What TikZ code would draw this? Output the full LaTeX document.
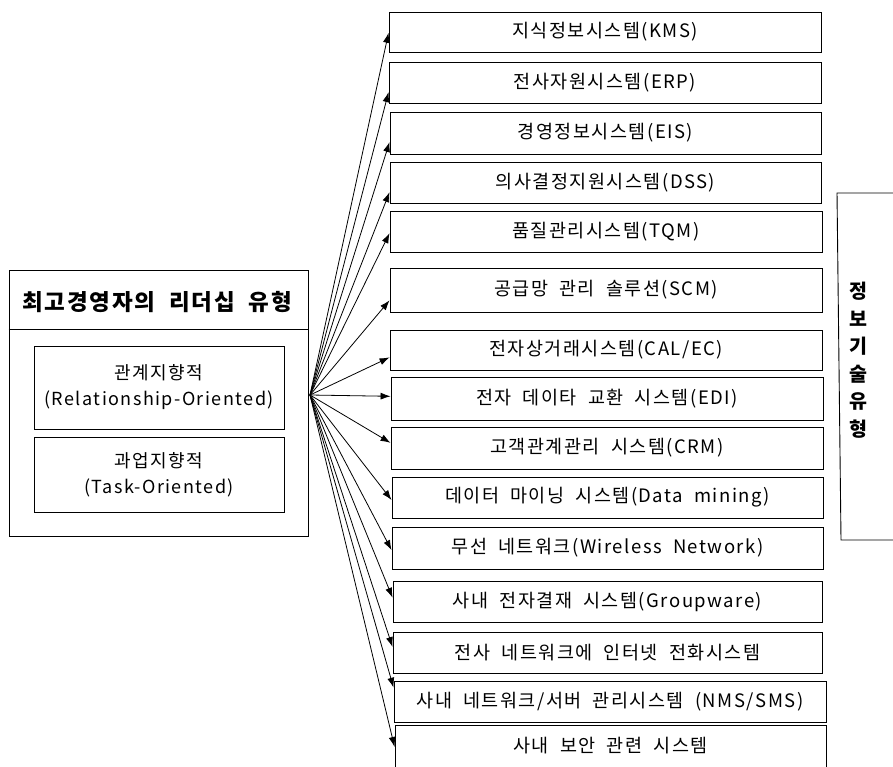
\documentclass[tikz,border=0pt]{standalone}
\usepackage{fontspec}
\setmainfont{Noto Sans CJK KR}[LetterSpace=8,WordSpace=2]
\usetikzlibrary{arrows.meta,calc}
\tikzset{
  rbox/.style={draw,line width=0.9pt,inner sep=0pt,font=\fontsize{18.5}{22}\selectfont},
  ibox/.style={draw,line width=0.9pt,inner sep=0pt,align=center,font=\fontsize{18}{26}\selectfont},
  arr/.style={line width=0.8pt,-{Latex[length=10pt,width=7pt]}},
}
\newcommand\rbx[6]{\node[rbox,minimum width={#3-#2},minimum height={#5-#4}] (#1) at ({(#2+#3)/2},{(#4+#5)/2}) {#6};}
\begin{document}
\begin{tikzpicture}[x=1pt,y=-1pt]
\useasboundingbox (0,0) rectangle (893,767);
% left box
\node[draw,line width=0.9pt,minimum width=299,minimum height=266,inner sep=0pt] (lbox) at (158.5,403) {};
\node[font=\bfseries\fontsize{22.5}{26}\selectfont] (ltitle) at (157,302) {최고경영자의 리더십 유형};
\draw[line width=0.9pt] (lbox.west |- 0,329) coordinate (sepL) -- (lbox.east |- 0,329) coordinate (sepR);
\node[ibox,minimum width=250,minimum height=83] (ia) at (159,387.5) {관계지향적\\(Relationship-Oriented)};
\node[ibox,minimum width=250,minimum height=75] (ib) at (159,474.5) {과업지향적\\(Task-Oriented)};
\coordinate (hub) at (310,395);
% right boxes
\rbx{b1}{389}{821}{12}{52}{지식정보시스템(KMS)}
\rbx{b2}{389}{821}{62}{103}{전사자원시스템(ERP)}
\rbx{b3}{390}{821}{112}{154}{경영정보시스템(EIS)}
\rbx{b4}{390}{821}{162}{203}{의사결정지원시스템(DSS)}
\rbx{b5}{390}{822}{211}{252}{품질관리시스템(TQM)}
\rbx{b6}{390}{822}{268}{312}{공급망 관리 솔루션(SCM)}
\rbx{b7}{390}{822}{330}{370}{전자상거래시스템(CAL/EC)}
\rbx{b8}{391}{823}{377}{420}{전자 데이타 교환 시스템(EDI)}
\rbx{b9}{391}{823}{427}{469}{고객관계관리 시스템(CRM)}
\rbx{b10}{392}{823}{477}{518}{데이터 마이닝 시스템(Data mining)}
\rbx{b11}{392}{823}{527}{569}{무선 네트워크(Wireless Network)}
\rbx{b12}{393}{822}{581}{622}{사내 전자결재 시스템(Groupware)}
\rbx{b13}{393}{822}{632}{673}{전사 네트워크에 인터넷 전화시스템}
\rbx{b14}{394}{826}{681}{722}{사내 네트워크/서버 관리시스템 (NMS/SMS)}
\node[rbox,minimum width=431,minimum height=82] (b15) at (610.5,766) {};
\node[font=\fontsize{18.5}{22}\selectfont] (t15) at (610.5,746) {사내 보안 관련 시스템};
% arrows
\draw[arr] (hub) -- ($(b1.north west)!0.52!(b1.south west)$);
\draw[arr] (hub) -- ($(b2.north west)!0.73!(b2.south west)$);
\draw[arr] (hub) -- ($(b3.north west)!0.71!(b3.south west)$);
\draw[arr] (hub) -- ($(b4.north west)!0.73!(b4.south west)$);
\draw[arr] (hub) -- ($(b5.north west)!0.54!(b5.south west)$);
\draw[arr] (hub) -- ($(b6.north west)!0.73!(b6.south west)$);
\draw[arr] (hub) -- ($(b7.north west)!0.68!(b7.south west)$);
\draw[arr] (hub) -- ($(b8.north west)!0.45!(b8.south west)$);
\draw[arr] (hub) -- ($(b9.north west)!0.38!(b9.south west)$);
\draw[arr] (hub) -- ($(b10.north west)!0.56!(b10.south west)$);
\draw[arr] (hub) -- ($(b11.north west)!0.55!(b11.south west)$);
\draw[arr] (hub) -- ($(b12.north west)!0.41!(b12.south west)$);
\draw[arr] (hub) -- ($(b13.north west)!0.37!(b13.south west)$);
\draw[arr] (hub) -- ($(b14.north west)!0.17!(b14.south west)$);
\draw[arr] (hub) -- ($(b15.north west)!0.27!(b15.south west)$);
% bracket
\coordinate (k1) at (893,193);
\coordinate (k2) at (837,193);
\coordinate (k3) at (841,540);
\coordinate (k4) at (893,540);
\draw[line width=0.9pt] (k1) -- (k2) -- (k3) -- (k4);
\node[font=\bfseries\fontsize{19.5}{27.5}\selectfont,align=center] (vt) at (858,360) {정\\보\\기\\술\\유\\형};
\end{tikzpicture}
\end{document}
